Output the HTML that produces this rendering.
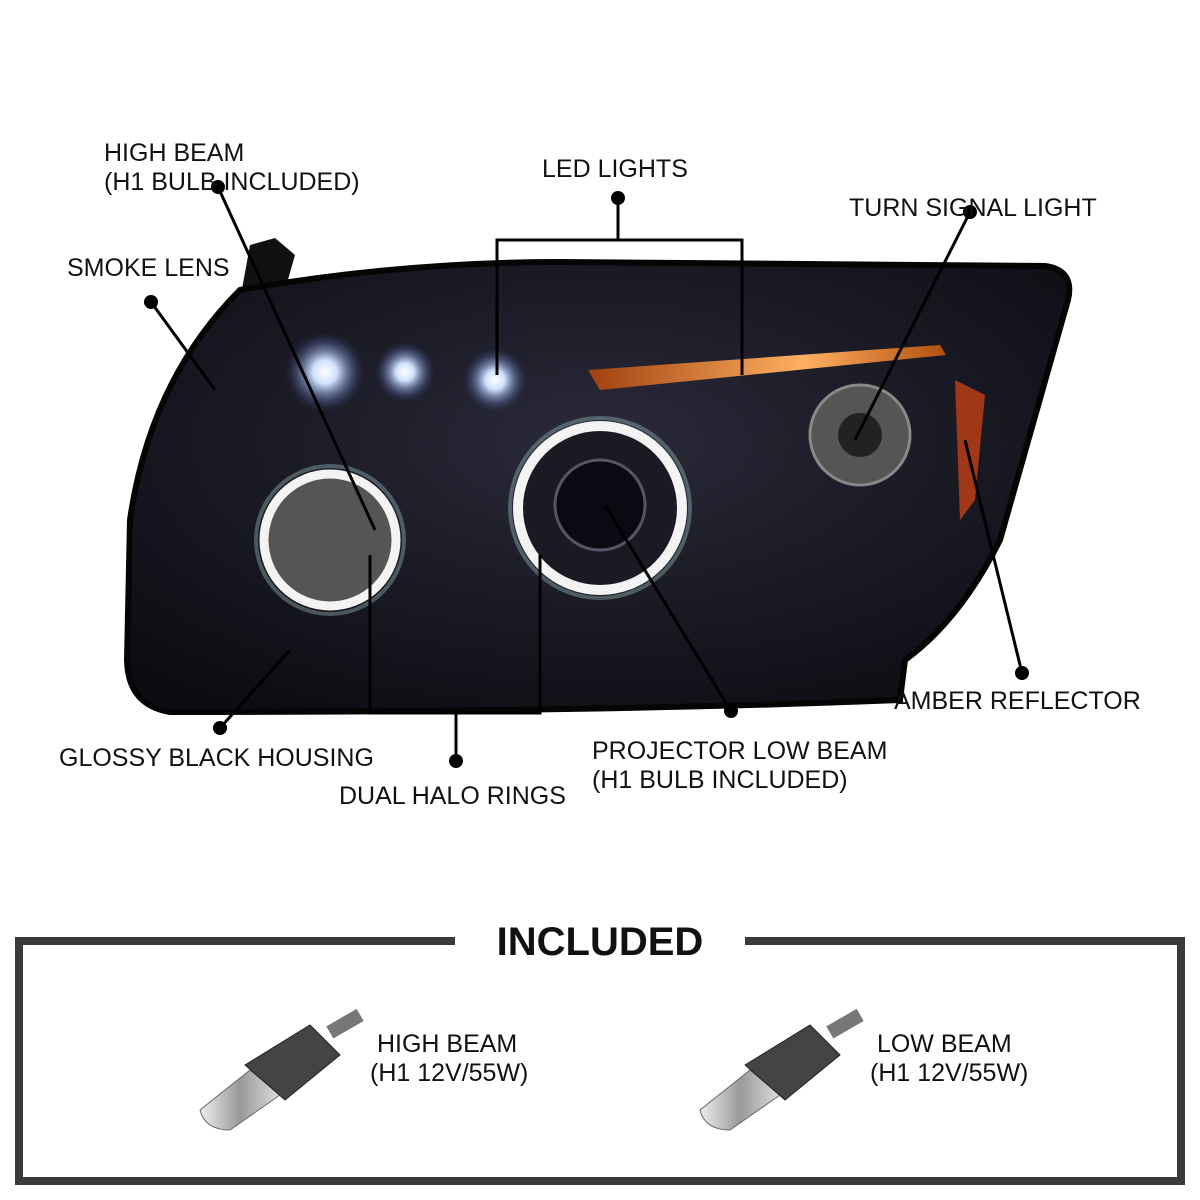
<!DOCTYPE html>
<html><head><meta charset="utf-8"><style>
html,body{margin:0;padding:0;background:#fff;}
body{width:1200px;height:1200px;overflow:hidden;position:relative;font-family:"Liberation Sans",sans-serif;}
.t{position:absolute;font-size:25px;color:#111;line-height:29px;white-space:nowrap;}
</style></head><body>
<svg width="1200" height="1200" style="position:absolute;left:0;top:0">
<defs>
<radialGradient id="g1" cx="50%" cy="40%" r="70%"><stop offset="0" stop-color="#2a2a3a"/><stop offset="1" stop-color="#0c0c12"/></radialGradient>
<radialGradient id="glow" r="50%"><stop offset="0" stop-color="#fff"/><stop offset="0.3" stop-color="#cfe0ff"/><stop offset="1" stop-color="#2a3a80" stop-opacity="0"/></radialGradient>
<linearGradient id="amb" x1="0" x2="1"><stop offset="0" stop-color="#a04010"/><stop offset="0.6" stop-color="#ffb060"/><stop offset="1" stop-color="#b05010"/></linearGradient>
<linearGradient id="bulb" x1="0" x2="1"><stop offset="0" stop-color="#eee"/><stop offset="0.5" stop-color="#999"/><stop offset="1" stop-color="#ddd"/></linearGradient>
</defs>
<path d="M240,300 L250,245 L275,238 L295,255 L285,290 Z" fill="#111"/>
<path d="M240,290 Q400,262 560,262 L1045,266 Q1075,270 1068,300 L1000,540 Q960,620 905,660 L900,700 Q600,712 170,712 Q128,705 127,660 L130,520 Q150,380 240,290 Z" fill="url(#g1)" stroke="#050505" stroke-width="6"/>
<circle cx="325" cy="372" r="40" fill="url(#glow)"/>
<circle cx="405" cy="372" r="30" fill="url(#glow)"/>
<circle cx="495" cy="380" r="32" fill="url(#glow)"/>
<path d="M588,370 L940,345 L946,355 L600,390 Z" fill="url(#amb)"/>
<circle cx="860" cy="435" r="50" fill="#555" stroke="#888" stroke-width="3"/>
<circle cx="860" cy="435" r="22" fill="#222"/>
<path d="M955,380 L985,395 L975,500 L960,520 Z" fill="#a03818"/>
<circle cx="330" cy="540" r="62" fill="#555"/>
<circle cx="330" cy="540" r="66" fill="none" stroke="#fff" stroke-width="9" opacity="0.95"/>
<circle cx="330" cy="540" r="74" fill="none" stroke="#9bb" stroke-width="4" opacity="0.4"/>
<circle cx="600" cy="508" r="80" fill="#1a1a24"/>
<circle cx="600" cy="508" r="82" fill="none" stroke="#fff" stroke-width="10" opacity="0.95"/>
<circle cx="600" cy="508" r="90" fill="none" stroke="#9bb" stroke-width="4" opacity="0.4"/>
<circle cx="600" cy="505" r="45" fill="#0a0a12" stroke="#556" stroke-width="3"/>
<g stroke="#000" stroke-width="3" fill="none">
<line x1="218" y1="187" x2="375" y2="530"/>
<line x1="151" y1="302" x2="215" y2="390"/>
<polyline points="497,375 497,240 742,240 742,375"/>
<line x1="618" y1="198" x2="618" y2="240"/>
<line x1="970" y1="212" x2="855" y2="440"/>
<line x1="1022" y1="673" x2="965" y2="440"/>
<line x1="220" y1="728" x2="290" y2="650"/>
<polyline points="370,555 370,713 540,713 540,555"/>
<line x1="456" y1="713" x2="456" y2="761"/>
<line x1="731" y1="711" x2="605" y2="505"/>
</g>
<g fill="#000">
<circle cx="218" cy="187" r="7"/><circle cx="151" cy="302" r="7"/><circle cx="618" cy="198" r="7"/>
<circle cx="970" cy="212" r="7"/><circle cx="1022" cy="673" r="7"/><circle cx="220" cy="728" r="7"/>
<circle cx="456" cy="761" r="7"/><circle cx="731" cy="711" r="7"/>
</g>
<rect x="19" y="941" width="1162" height="240" fill="none" stroke="#3a3a3a" stroke-width="8"/>
<rect x="455" y="930" width="290" height="22" fill="#fff"/>
<g transform="translate(190,1010)">
<path d="M10,100 L60,60 L90,85 L40,120 Q15,120 10,100Z" fill="url(#bulb)" stroke="#666"/>
<path d="M55,55 L120,15 L150,45 L95,90 Z" fill="#444" stroke="#222"/>
<rect x="140" y="10" width="35" height="14" fill="#777" transform="rotate(-30 150 20)"/>
</g>
<g transform="translate(690,1010)">
<path d="M10,100 L60,60 L90,85 L40,120 Q15,120 10,100Z" fill="url(#bulb)" stroke="#666"/>
<path d="M55,55 L120,15 L150,45 L95,90 Z" fill="#444" stroke="#222"/>
<rect x="140" y="10" width="35" height="14" fill="#777" transform="rotate(-30 150 20)"/>
</g>
</svg>
<div class="t" style="left:104px;top:139px">HIGH BEAM<br>(H1 BULB INCLUDED)</div>
<div class="t" style="left:542px;top:155px">LED LIGHTS</div>
<div class="t" style="left:849px;top:194px">TURN SIGNAL LIGHT</div>
<div class="t" style="left:67px;top:254px">SMOKE LENS</div>
<div class="t" style="left:894px;top:687px">AMBER REFLECTOR</div>
<div class="t" style="left:59px;top:744px">GLOSSY BLACK HOUSING</div>
<div class="t" style="left:592px;top:737px">PROJECTOR LOW BEAM<br>(H1 BULB INCLUDED)</div>
<div class="t" style="left:339px;top:782px">DUAL HALO RINGS</div>
<div class="t" style="left:455px;top:918px;width:290px;text-align:center;font-weight:bold;font-size:40px;line-height:48px">INCLUDED</div>
<div class="t" style="left:370px;top:1030px">&nbsp;HIGH BEAM<br>(H1 12V/55W)</div>
<div class="t" style="left:870px;top:1030px">&nbsp;LOW BEAM<br>(H1 12V/55W)</div>
</body></html>
